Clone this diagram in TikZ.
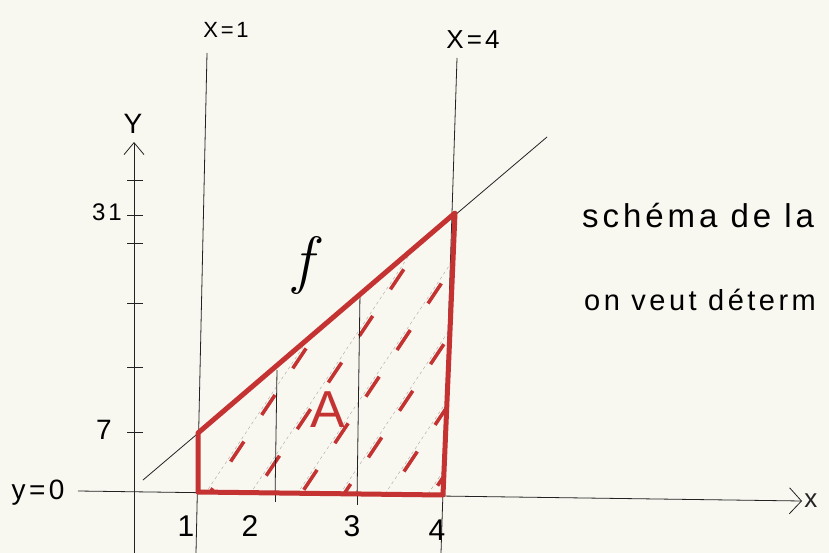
\documentclass[tikz,border=0pt]{standalone}
\usepackage{fontspec}
\newfontfamily\hand[LetterSpace=12]{Liberation Sans}
\usetikzlibrary{arrows.meta}
\definecolor{paper}{RGB}{248,247,240}
\definecolor{marker}{RGB}{196,50,50}
\definecolor{pencil}{RGB}{35,35,35}

\begin{document}
\begin{tikzpicture}[x=1pt, y=-1pt, font=\hand]
  \fill[paper] (0,0) rectangle (829,553);
  \useasboundingbox (0,0) rectangle (829,553);
  \begin{scope}[line width=0.8pt]
    % axes
    \draw[pencil, -{Straight Barb[length=12pt, width=26pt]}] (78,491) -- (802,501) node [right, inner sep=2pt, font=\hand\fontsize{26}{28}\selectfont] (xlab) {x};
    \draw[pencil, -{Straight Barb[length=12pt, width=20pt]}] (134,553) -- (134,142);
    \node (ylab) at (133,124) {\fontsize{28}{30}\selectfont Y};
    \foreach \t in {180, 215, 243, 303, 367, 432}
      \draw[pencil] (127,\t) -- (143,\t);
    \node (yseven) at (104,430) {\fontsize{28}{30}\selectfont 7};
    \node (ythirtyone) at (107,212) {\fontsize{24}{26}\selectfont 31};
    \node[anchor=base west] (yzero) at (8,499) {\fontsize{28}{30}\selectfont y=0};
    % vertical lines x=1, x=4
    \draw[pencil] (207,53) -- (196,553);
    \draw[pencil] (457,58) -- (441,553);
    \node (xone) at (226,30) {\fontsize{22}{24}\selectfont X=1};
    \node (xfour) at (473,40) {\fontsize{26}{28}\selectfont X=4};
    % x labels
    \node (xa) at (186,526) {\fontsize{30}{32}\selectfont 1};
    \node (xb) at (250,526) {\fontsize{30}{32}\selectfont 2};
    \node (xc) at (352,526) {\fontsize{30}{32}\selectfont 3};
    \node (xd) at (437,530) {\fontsize{30}{32}\selectfont 4};
    % function f
    \draw[pencil] (143,480) -- (547,137);
    \node (flab) at (303,265) {\rmfamily\itshape\fontsize{64}{68}\selectfont f};
  \end{scope}
  \begin{scope}
    % hatching of A
    \clip (198,492) -- (198,433) -- (455,213) -- (443,495) -- cycle;
    \foreach \s [count=\i] in {205,250,297,340,385,428,472} {
      \draw[pencil!45, thin, dashed] (\s,494) -- ++(200,-300);
      \draw[marker, line width=3.5pt, dash pattern=on 24pt off 32pt, dash phase=\i*17pt] (\s+4,494) -- ++(200,-300);
    }
    \draw[pencil, line width=0.8pt] (277,370) -- (275,500);
    \draw[pencil, line width=0.8pt] (360,293) -- (357,500);
  \end{scope}
  \draw[pencil, line width=0.8pt] (275,492) -- (275,502);
  \draw[pencil, line width=0.8pt] (357,492) -- (357,505);
  % area A
  \draw[marker, line width=5pt, line join=round, line cap=round] (198,492) -- (198,433) -- (455,213) -- (443,495) -- cycle;
  \node[marker] (alab) at (328,410) {\fontsize{52}{56}\selectfont A};
  % text
  \node[anchor=base west, inner sep=0pt] (txta) at (582,228) {\fontsize{33}{36}\selectfont schéma de la};
  \node[anchor=base west, inner sep=0pt] (txtb) at (584,310) {\fontsize{29}{32}\selectfont on veut déterm};
\end{tikzpicture}
\end{document}
